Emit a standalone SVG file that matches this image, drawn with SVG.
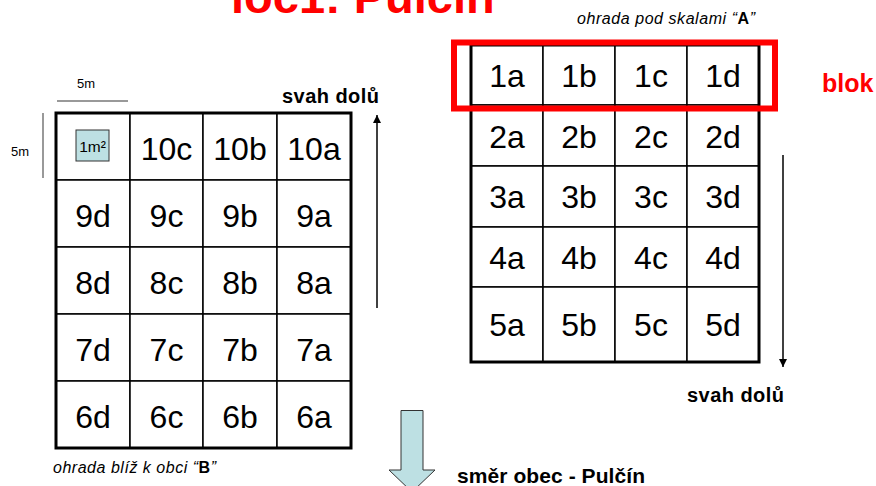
<svg xmlns="http://www.w3.org/2000/svg" width="876" height="486" viewBox="0 0 876 486">
<defs>
<style>
.cell{fill:#fff;stroke:#000;stroke-width:1.5}
.frame{fill:none;stroke:#000;stroke-width:3}
.lbl{font-family:"Liberation Sans",Arial,sans-serif;font-size:32px;fill:#000;text-anchor:middle}
.bold{font-family:"Liberation Sans",Arial,sans-serif;font-weight:bold;fill:#000}
.ital{font-family:"Liberation Sans",Arial,sans-serif;font-style:italic;font-size:16px;fill:#000}
.small{font-family:"Liberation Sans",Arial,sans-serif;font-size:13px;fill:#000}
.scale{stroke:#777;stroke-width:1.5;fill:none}
.arr{stroke:#000;stroke-width:1.5;fill:none}
</style>
<marker id="ah" viewBox="0 0 10 10" refX="10" refY="5" markerWidth="8" markerHeight="8" markerUnits="userSpaceOnUse" orient="auto">
<path d="M0,0 L10,5 L0,10 z" fill="#000"/>
</marker>
</defs>
<rect width="876" height="486" fill="#fff"/>

<text id="title" class="bold" x="231" y="13" font-size="47" style="fill:#ff0000">loc1: Pulčín</text>

<!-- labels -->
<text class="ital" x="577" y="24" textLength="178">ohrada pod skalami “<tspan font-weight="bold" font-style="normal">A</tspan>”</text>
<text class="ital" x="53" y="473" textLength="163">ohrada blíž k obci “<tspan font-weight="bold" font-style="normal">B</tspan>”</text>
<text class="bold" x="282" y="103" font-size="20" textLength="97">svah dolů</text>
<text class="bold" x="687" y="402" font-size="20" textLength="97">svah dolů</text>
<text class="bold" x="457" y="483" font-size="21" textLength="188">směr obec - Pulčín</text>
<text class="bold" x="822" y="92" font-size="25" style="fill:#ff0000">blok</text>

<!-- scale -->
<g id="scale">
<text class="small" x="77" y="88">5m</text>
<line class="scale" x1="57" y1="101" x2="128" y2="101"/>
<text class="small" x="11" y="156">5m</text>
<line class="scale" x1="43" y1="113" x2="43" y2="178"/>
</g>

<!-- left plot B -->
<g id="plotB">
<g id="B-10d"><rect class="cell" x="56" y="113" width="74" height="67"/>
<g id="m2"><rect x="76" y="130" width="33" height="31" fill="#bde0e3" stroke="#333" stroke-width="1"/><text class="small" x="92.5" y="151.5" text-anchor="middle" style="font-size:15.5px">1m²</text></g></g>
<g id="B-10c"><rect class="cell" x="130" y="113" width="73" height="67"/><text class="lbl" x="166.5" y="159.5">10c</text></g>
<g id="B-10b"><rect class="cell" x="203" y="113" width="74" height="67"/><text class="lbl" x="240" y="159.5">10b</text></g>
<g id="B-10a"><rect class="cell" x="277" y="113" width="74" height="67"/><text class="lbl" x="314" y="159.5">10a</text></g>

<g id="B-9d"><rect class="cell" x="56" y="180" width="74" height="67"/><text class="lbl" x="93" y="226.5">9d</text></g>
<g id="B-9c"><rect class="cell" x="130" y="180" width="73" height="67"/><text class="lbl" x="166.5" y="226.5">9c</text></g>
<g id="B-9b"><rect class="cell" x="203" y="180" width="74" height="67"/><text class="lbl" x="240" y="226.5">9b</text></g>
<g id="B-9a"><rect class="cell" x="277" y="180" width="74" height="67"/><text class="lbl" x="314" y="226.5">9a</text></g>

<g id="B-8d"><rect class="cell" x="56" y="247" width="74" height="67"/><text class="lbl" x="93" y="293.5">8d</text></g>
<g id="B-8c"><rect class="cell" x="130" y="247" width="73" height="67"/><text class="lbl" x="166.5" y="293.5">8c</text></g>
<g id="B-8b"><rect class="cell" x="203" y="247" width="74" height="67"/><text class="lbl" x="240" y="293.5">8b</text></g>
<g id="B-8a"><rect class="cell" x="277" y="247" width="74" height="67"/><text class="lbl" x="314" y="293.5">8a</text></g>

<g id="B-7d"><rect class="cell" x="56" y="314" width="74" height="67"/><text class="lbl" x="93" y="360.5">7d</text></g>
<g id="B-7c"><rect class="cell" x="130" y="314" width="73" height="67"/><text class="lbl" x="166.5" y="360.5">7c</text></g>
<g id="B-7b"><rect class="cell" x="203" y="314" width="74" height="67"/><text class="lbl" x="240" y="360.5">7b</text></g>
<g id="B-7a"><rect class="cell" x="277" y="314" width="74" height="67"/><text class="lbl" x="314" y="360.5">7a</text></g>

<g id="B-6d"><rect class="cell" x="56" y="381" width="74" height="67"/><text class="lbl" x="93" y="427.5">6d</text></g>
<g id="B-6c"><rect class="cell" x="130" y="381" width="73" height="67"/><text class="lbl" x="166.5" y="427.5">6c</text></g>
<g id="B-6b"><rect class="cell" x="203" y="381" width="74" height="67"/><text class="lbl" x="240" y="427.5">6b</text></g>
<g id="B-6a"><rect class="cell" x="277" y="381" width="74" height="67"/><text class="lbl" x="314" y="427.5">6a</text></g>
<rect class="frame" x="56" y="113" width="295" height="335"/>
</g>

<!-- right plot A -->
<g id="plotA">
<g id="A-1a"><rect class="cell" x="471" y="45" width="72" height="60"/><text class="lbl" x="507" y="87">1a</text></g>
<g id="A-1b"><rect class="cell" x="543" y="45" width="72" height="60"/><text class="lbl" x="579" y="87">1b</text></g>
<g id="A-1c"><rect class="cell" x="615" y="45" width="72" height="60"/><text class="lbl" x="651" y="87">1c</text></g>
<g id="A-1d"><rect class="cell" x="687" y="45" width="72" height="60"/><text class="lbl" x="723" y="87">1d</text></g>

<g id="A-2a"><rect class="cell" x="471" y="105" width="72" height="61"/><text class="lbl" x="507" y="147.5">2a</text></g>
<g id="A-2b"><rect class="cell" x="543" y="105" width="72" height="61"/><text class="lbl" x="579" y="147.5">2b</text></g>
<g id="A-2c"><rect class="cell" x="615" y="105" width="72" height="61"/><text class="lbl" x="651" y="147.5">2c</text></g>
<g id="A-2d"><rect class="cell" x="687" y="105" width="72" height="61"/><text class="lbl" x="723" y="147.5">2d</text></g>

<g id="A-3a"><rect class="cell" x="471" y="166" width="72" height="61"/><text class="lbl" x="507" y="208">3a</text></g>
<g id="A-3b"><rect class="cell" x="543" y="166" width="72" height="61"/><text class="lbl" x="579" y="208">3b</text></g>
<g id="A-3c"><rect class="cell" x="615" y="166" width="72" height="61"/><text class="lbl" x="651" y="208">3c</text></g>
<g id="A-3d"><rect class="cell" x="687" y="166" width="72" height="61"/><text class="lbl" x="723" y="208">3d</text></g>

<g id="A-4a"><rect class="cell" x="471" y="227" width="72" height="60"/><text class="lbl" x="507" y="269">4a</text></g>
<g id="A-4b"><rect class="cell" x="543" y="227" width="72" height="60"/><text class="lbl" x="579" y="269">4b</text></g>
<g id="A-4c"><rect class="cell" x="615" y="227" width="72" height="60"/><text class="lbl" x="651" y="269">4c</text></g>
<g id="A-4d"><rect class="cell" x="687" y="227" width="72" height="60"/><text class="lbl" x="723" y="269">4d</text></g>

<g id="A-5a"><rect class="cell" x="471" y="287" width="72" height="75"/><text class="lbl" x="507" y="336">5a</text></g>
<g id="A-5b"><rect class="cell" x="543" y="287" width="72" height="75"/><text class="lbl" x="579" y="336">5b</text></g>
<g id="A-5c"><rect class="cell" x="615" y="287" width="72" height="75"/><text class="lbl" x="651" y="336">5c</text></g>
<g id="A-5d"><rect class="cell" x="687" y="287" width="72" height="75"/><text class="lbl" x="723" y="336">5d</text></g>
<rect class="frame" x="471" y="45" width="288" height="317"/>
</g>

<g id="blok"><rect x="454" y="42.5" width="321" height="66" fill="none" stroke="#ff0000" stroke-width="6"/></g>

<g id="connectors">
<line class="arr" x1="377" y1="308" x2="377" y2="115" marker-end="url(#ah)"/>
<line class="arr" x1="783" y1="155" x2="783" y2="367" marker-end="url(#ah)"/>
</g>

<g id="direction">
<path d="M401,410.5 H423 V470 H435 L412,492 L389,470 H401 Z" fill="#bde0e3" stroke="#333" stroke-width="1"/>
</g>
</svg>
